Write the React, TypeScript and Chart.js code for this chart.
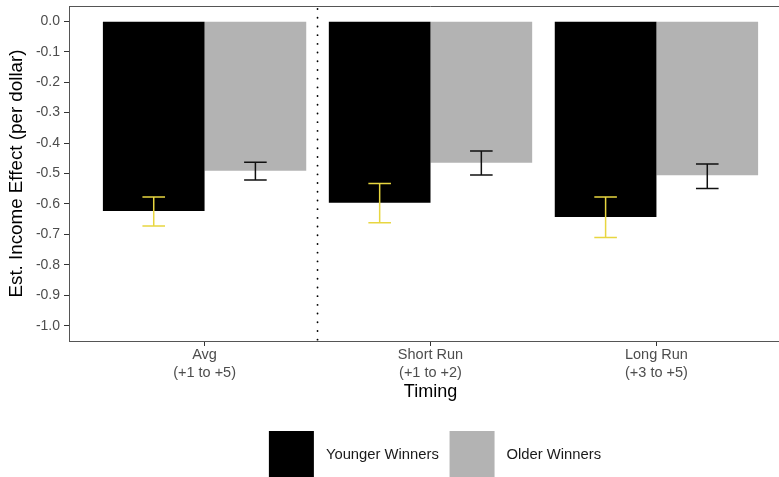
import React, { useEffect, useRef } from "react";
import { Chart, registerables } from "chart.js";

Chart.register(...registerables);

const categoryLabels: string[][] = [
  ["Avg", "(+1 to +5)"],
  ["Short Run", "(+1 to +2)"],
  ["Long Run", "(+3 to +5)"],
];
const categoryPositions: number[] = [1, 2, 3];

const seriesNames: string[] = ["Younger Winners", "Older Winners"];

const youngerValues: number[] = [-0.623, -0.596, -0.643];
const youngerLow: number[] = [-0.672, -0.662, -0.71];
const youngerHigh: number[] = [-0.577, -0.533, -0.577];

const olderValues: number[] = [-0.491, -0.465, -0.506];
const olderLow: number[] = [-0.521, -0.505, -0.549];
const olderHigh: number[] = [-0.463, -0.426, -0.469];

const yTickValues: number[] = [0.0, -0.1, -0.2, -0.3, -0.4, -0.5, -0.6, -0.7, -0.8, -0.9, -1.0];
const dividerPosition = 1.5;

const FONT = '"Liberation Sans", Arial, Helvetica, sans-serif';
const YOUNGER_COLOR = "#000000";
const OLDER_COLOR = "#b3b3b3";
const YOUNGER_ERR_COLOR = "#e8d640";
const OLDER_ERR_COLOR = "#111111";
const BORDER_COLOR = "#555555";

export default function App() {
  const ref = useRef<HTMLCanvasElement | null>(null);

  useEffect(() => {
    const canvas = ref.current;
    if (!canvas) return;

    const errorData = [
      { low: youngerLow, high: youngerHigh, color: YOUNGER_ERR_COLOR },
      { low: olderLow, high: olderHigh, color: OLDER_ERR_COLOR },
    ];

    const decorations = {
      id: "decorations",
      beforeDatasetsDraw(chart: any) {
        const { ctx, chartArea, scales } = chart;
        const x = scales.x.getPixelForValue(dividerPosition);
        ctx.save();
        ctx.strokeStyle = "#000";
        ctx.lineWidth = 1.8;
        ctx.lineCap = "round";
        ctx.setLineDash([0.1, 8.6]);
        ctx.beginPath();
        ctx.moveTo(x, chartArea.top + 3);
        ctx.lineTo(x, chartArea.bottom);
        ctx.stroke();
        ctx.restore();
      },
      afterDatasetsDraw(chart: any) {
        const { ctx, chartArea, scales } = chart;
        const halfCap = scales.x.getPixelForValue(1.05) - scales.x.getPixelForValue(1);
        ctx.save();
        errorData.forEach((err, di) => {
          const meta = chart.getDatasetMeta(di);
          meta.data.forEach((el: any, j: number) => {
            const cx = el.x;
            const yl = scales.y.getPixelForValue(err.low[j]);
            const yh = scales.y.getPixelForValue(err.high[j]);
            ctx.strokeStyle = err.color;
            ctx.lineWidth = 1.5;
            ctx.beginPath();
            ctx.moveTo(cx, yl);
            ctx.lineTo(cx, yh);
            ctx.moveTo(cx - halfCap, yl);
            ctx.lineTo(cx + halfCap, yl);
            ctx.moveTo(cx - halfCap, yh);
            ctx.lineTo(cx + halfCap, yh);
            ctx.stroke();
          });
        });
        ctx.strokeStyle = BORDER_COLOR;
        ctx.lineWidth = 1;
        ctx.beginPath();
        ctx.moveTo(chartArea.left, chartArea.top + 0.5);
        ctx.lineTo(chartArea.right, chartArea.top + 0.5);
        ctx.moveTo(chartArea.right - 0.5, chartArea.top);
        ctx.lineTo(chartArea.right - 0.5, chartArea.bottom);
        ctx.stroke();
        ctx.restore();
      },
      afterDraw(chart: any) {
        const { ctx, chartArea } = chart;
        const datasets = chart.data.datasets;
        ctx.save();
        ctx.font = `14.8px ${FONT}`;
        const boxW = 45;
        const boxH = 46;
        const gapText = 12;
        const gapItem = 10.7;
        const widths = datasets.map((d: any) => ctx.measureText(d.label).width);
        let total = 0;
        widths.forEach((w: number, i: number) => {
          total += boxW + gapText + w + (i > 0 ? gapItem : 0);
        });
        const centerX = (chartArea.left + chartArea.right) / 2 + 4.5;
        let x = centerX - total / 2;
        const top = 431;
        datasets.forEach((d: any, i: number) => {
          ctx.fillStyle = d.backgroundColor;
          ctx.fillRect(x, top, boxW, boxH);
          x += boxW + gapText;
          ctx.fillStyle = "#1a1a1a";
          ctx.textBaseline = "middle";
          ctx.textAlign = "left";
          ctx.fillText(d.label, x, 455);
          x += widths[i] + gapItem;
        });
        ctx.restore();
      },
    };

    const chart = new Chart(canvas, {
      type: "bar",
      data: {
        datasets: [
          {
            label: seriesNames[0],
            data: categoryPositions.map((x, i) => ({ x, y: youngerValues[i] })),
            backgroundColor: YOUNGER_COLOR,
            borderWidth: 0,
            categoryPercentage: 0.9,
            barPercentage: 1.0,
          },
          {
            label: seriesNames[1],
            data: categoryPositions.map((x, i) => ({ x, y: olderValues[i] })),
            backgroundColor: OLDER_COLOR,
            borderWidth: 0,
            categoryPercentage: 0.9,
            barPercentage: 1.0,
          },
        ] as any,
      },
      options: {
        animation: false,
        responsive: false,
        maintainAspectRatio: false,
        layout: { padding: { left: 0, top: 6, right: 8, bottom: 0 } },
        plugins: {
          legend: { display: false },
          tooltip: { enabled: false },
        },
        scales: {
          x: {
            type: "linear",
            min: 0.4,
            max: 3.6,
            offset: false,
            grid: {
              display: true,
              offset: false,
              drawOnChartArea: false,
              drawTicks: true,
              tickLength: 5,
              tickColor: "#333",
              tickWidth: 1,
            },
            border: { display: true, color: BORDER_COLOR, width: 1 },
            ticks: {
              autoSkip: false,
              maxRotation: 0,
              padding: 0,
              color: "#4d4d4d",
              font: { family: FONT, size: 14.5, lineHeight: 1.22 },
              callback: (v: any) => {
                const idx = categoryPositions.indexOf(Number(v));
                return idx >= 0 ? categoryLabels[idx] : "";
              },
            },
            afterBuildTicks: (s: any) => {
              s.ticks = categoryPositions.map((v) => ({ value: v }));
            },
            afterFit: (s: any) => {
              s.height = 136;
              s.paddingLeft = 0;
              s.paddingRight = 0;
            },
            title: {
              display: true,
              text: "Timing",
              color: "#000",
              font: { family: FONT, size: 18 },
              padding: { top: 0, bottom: 74 },
            },
          } as any,
          y: {
            type: "linear",
            min: -1.05,
            max: 0.05,
            grid: {
              display: true,
              drawOnChartArea: false,
              drawTicks: true,
              tickLength: 5,
              tickColor: "#333",
              tickWidth: 1,
            },
            border: { display: true, color: BORDER_COLOR, width: 1 },
            ticks: {
              padding: 4,
              color: "#4d4d4d",
              font: { family: FONT, size: 14 },
              callback: (v: any) => {
                const n = Math.round(Number(v) * 10) / 10;
                return (n === 0 ? 0 : n).toFixed(1);
              },
            },
            afterBuildTicks: (s: any) => {
              s.ticks = yTickValues.map((v) => ({ value: v }));
            },
            afterFit: (s: any) => {
              s.width = 69;
              s.paddingTop = 0;
              s.paddingBottom = 0;
            },
            title: {
              display: true,
              text: "Est. Income Effect (per dollar)",
              color: "#000",
              font: { family: FONT, size: 18.8 },
              padding: { top: 6, bottom: 0 },
            },
          } as any,
        },
      },
      plugins: [decorations],
    });

    return () => {
      chart.destroy();
    };
  }, []);

  return (
    <div
      style={{
        position: "fixed",
        left: 0,
        top: 0,
        width: 779,
        height: 477,
        overflow: "hidden",
        background: "#ffffff",
      }}
    >
      <canvas ref={ref} width={800} height={477} style={{ display: "block", width: 800, height: 477 }} />
    </div>
  );
}
